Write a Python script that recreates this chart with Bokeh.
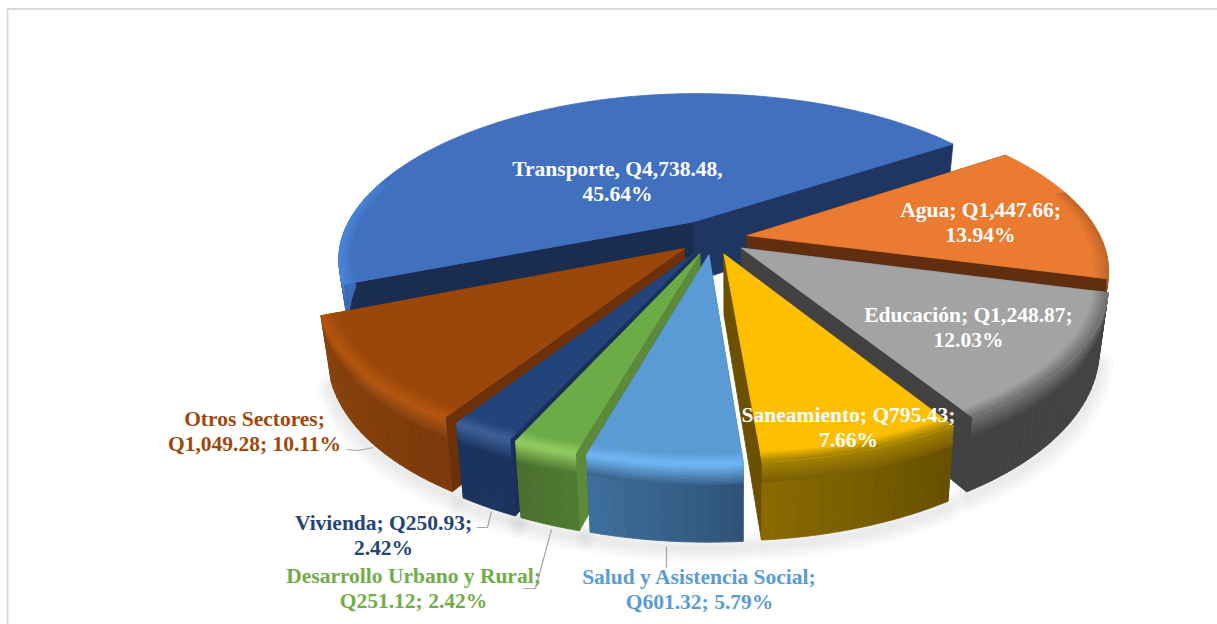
import numpy as np
from bokeh.plotting import figure
from bokeh.models import Range1d, ColumnDataSource
from bokeh.core.properties import value
from bokeh.embed import file_html
from bokeh.resources import INLINE

# ---- data ----
categories = ["Transporte", "Agua", "Educación", "Saneamiento",
              "Salud y Asistencia Social", "Desarrollo Urbano y Rural", "Vivienda", "Otros Sectores"]
amounts = [4738.48, 1447.66, 1248.87, 795.43, 601.32, 251.12, 250.93, 1049.28]
percents = [45.64, 13.94, 12.03, 7.66, 5.79, 2.42, 2.42, 10.11]
label_lines = [
    ["Transporte, Q4,738.48,", "45.64%"],
    ["Agua; Q1,447.66;", "13.94%"],
    ["Educación; Q1,248.87;", "12.03%"],
    ["Saneamiento; Q795.43;", "7.66%"],
    ["Salud y Asistencia Social;", "Q601.32; 5.79%"],
    ["Desarrollo Urbano y Rural;", "Q251.12; 2.42%"],
    ["Vivienda; Q250.93;", "2.42%"],
    ["Otros Sectores;", "Q1,049.28; 10.11%"],
]

# ---- styles ----
top_col = ["#4170BF", "#EA7B30", "#A3A3A3", "#FDBF00", "#5B9BD5", "#6DAB47", "#23447B", "#9B470C"]
rim_col = ["#4A86D8", "#C0662A", "#6E6E6E", "#A08000", "#70B8F5", "#95CF64", "#3E6298", "#B5560F"]
side_a = ["#3D6BB5", "#5F3011", "#424242", "#665000", "#2E5377", "#507C30", "#1C3360", "#7C390A"]
side_b = ["#3D6BB5", "#5F3011", "#424242", "#8A6A00", "#3F6F9C", "#4A7030", "#1C3360", "#88420C"]
cut_col = ["#1F3663", "#612F10", "#424242", "#6A5000", "#3A6A98", "#5A8A3A", "#1A3058", "#6C3108"]
label_col = ["white", "white", "white", "white", "#5B9BD5", "#70AD47", "#264478", "#9E480E"]
label_pos = [(617, 168), (980, 209), (968, 314), (848, 414), (699, 576), (413, 575), (383, 522), (254, 418)]
paint_order = [0, 1, 2, 7, 3, 6, 5, 4]
explode = [0.12, 0.1, 0.1, 0.1, 0.1, 0.1, 0.1, 0.1]

FIRST_ANGLE = 250.0
CX, CY, RX, RY, PERSP = 712.0, 238.0, 354.0, 160.0, 0.2
DEPTH, VX, VK = 61.0, 735.0, 0.025


def view_angle(theta):
    """Small lens correction of the drawing angle, as in the picture's perspective."""
    t = np.mod(theta, 360.0)
    front = np.abs(t - 180.0) < 90.0
    back = t < 90.0
    return (theta + np.where(front, 1.0 * np.sin(np.radians(2 * (180.0 - t))), 0.0)
            + np.where(back, 1.5 * np.sin(np.radians(2 * t)), 0.0))


def project(theta, r, z, mid, e):
    t, m = np.radians(view_angle(theta)), np.radians(mid)
    X = r * np.sin(t) + e * np.sin(m)
    Y = r * np.cos(t) + e * np.cos(m)
    w = 1.0 / (1.0 + PERSP * Y)
    sx = CX + RX * X * w
    sy = CY - RY * Y * w + DEPTH * z * w
    dx = np.minimum(sx - CX, 0.0)
    sy = sy + 5.0 * (dx / 390.0) ** 2
    sx = sx + (VX - sx) * VK * z
    return sx, sy


def hex2rgb(c):
    return np.array([int(c[i:i + 2], 16) for i in (1, 3, 5)], float)


def mix(a, b, t):
    c = hex2rgb(a) * (1 - t) + hex2rgb(b) * t
    return "#%02x%02x%02x" % tuple(int(round(v)) for v in c)


sweeps = 360.0 * np.array(amounts) / np.sum(amounts)
starts = FIRST_ANGLE + np.concatenate([[0.0], np.cumsum(sweeps)[:-1]])
ends = starts + sweeps
mids = (starts + ends) / 2

xs, ys, cols = [], [], []


def add(px, py, c):
    xs.append(list(map(float, px)))
    ys.append(list(map(float, py)))
    cols.append(c)


RING = 0.04
for i in paint_order:
    a0, a1, m, e = starts[i], ends[i], mids[i], explode[i]
    n = max(3, int((a1 - a0) / 1.5))
    th = np.linspace(a0, a1, n + 1)
    for edge in (a1, a0):
        c = cut_col[i]
        if i == 0 and edge == a0:
            c = "#1A2C4F"
        ax0, ay0 = project(edge, 0.0, 0.0, m, e)
        ax1, ay1 = project(edge, 0.0, 1.0, m, e)
        bx0, by0 = project(edge, 1.0, 0.0, m, e)
        bx1, by1 = project(edge, 1.0, 1.0, m, e)
        add([ax0, bx0, bx1, ax1], [ay0, by0, by1, ay1], c)
    nb = 12
    zsteps = np.linspace(0, 0.26, nb + 1)
    front = [k for k in range(n) if np.cos(np.radians((th[k] + th[k + 1]) / 2)) < 0]
    for k in front:
        base = mix(side_a[i], side_b[i], (k + .5) / n)
        x0, y0 = project(th[k], 1.0, 0.26, m, e)
        x1, y1 = project(th[k + 1], 1.0, 0.26, m, e)
        x2, y2 = project(th[k + 1], 1.0, 1.0, m, e)
        x3, y3 = project(th[k], 1.0, 1.0, m, e)
        add([x0, x1, x2, x3], [y0, y1, y2, y3], base)
    if front:
        tf = np.linspace(th[front[0]], th[front[-1] + 1], len(front) + 1)
        midc = mix(side_a[i], side_b[i], 0.5)
        for j in range(nb - 1, -1, -1):
            px0, py0 = project(tf, 1.0, zsteps[j], m, e)
            px1, py1 = project(tf, 1.0, zsteps[j + 1], m, e)
            add(np.r_[px0, px1[::-1]], np.r_[py0, py1[::-1]], mix(rim_col[i], midc, (j + .5) / nb))
    tx, ty = project(th, 1.0, 0.0, m, e)
    ax, ay = project(a0, 0.0, 0.0, m, e)
    add(np.r_[ax, tx], np.r_[ay, ty], top_col[i])
    # bevel on the near part of the rim only
    th_ring = th[np.cos(np.radians(th)) < 0.3]
    if len(th_ring) > 1:
        radii = np.linspace(1 - RING, 1.0, 9)
        for j in range(8):
            ox, oy = project(th_ring, radii[j + 1], 0.0, m, e)
            ix, iy = project(th_ring, radii[j], 0.0, m, e)
            add(np.r_[ox, ix[::-1]], np.r_[oy, iy[::-1]], mix(top_col[i], rim_col[i], (j + .5) / 8))

x0_view, x1_view = 0, 1217
y0_view, y1_view = 0, 624
p = figure(width=x1_view - x0_view, height=y1_view - y0_view, output_backend="svg", toolbar_location=None,
           x_range=Range1d(x0_view, x1_view), y_range=Range1d(y1_view, y0_view),
           min_border=0, outline_line_color=None, background_fill_color="white",
           border_fill_color="white", x_axis_location=None, y_axis_location=None)
p.grid.visible = False

p.line([7, 7, 1217], [624, 8.5, 8.5], line_color="#D9D9D9", line_width=2)

for lw in (30, 24, 18, 12, 6):
    sx, sy = [], []
    for i in (2, 3, 4, 5, 6, 7):
        th = np.linspace(starts[i], ends[i], 30)
        bx, by = project(th, 1.0, 1.0, mids[i], explode[i])
        sx.append((bx).tolist())
        sy.append((by + 6).tolist())
    p.multi_line(sx, sy, line_color="#808080", line_alpha=0.03, line_width=lw, line_cap="round")

src = ColumnDataSource(dict(xs=xs, ys=ys, c=cols))
p.patches("xs", "ys", source=src, fill_color="c", line_color="c", line_width=0.8)

leaders = [([346, 358, 373], [449, 450, 447]),
           ([476, 487, 491], [527, 527, 511]),
           ([523, 535, 551], [588, 588, 529]),
           ([666, 666], [546, 567])]
for lx, ly in leaders:
    p.line(lx, ly, line_color="#A6A6A6", line_width=1.2)

for i, lines in enumerate(label_lines):
    lx, ly = label_pos[i]
    p.text([lx, lx], [ly, ly + 25], text=lines, text_color=label_col[i],
           text_font=value("Liberation Serif"), text_font_style="bold",
           text_font_size=value("21.5px"), text_align="center", text_baseline="middle")

open("out.html", "w").write(file_html(p, INLINE))
